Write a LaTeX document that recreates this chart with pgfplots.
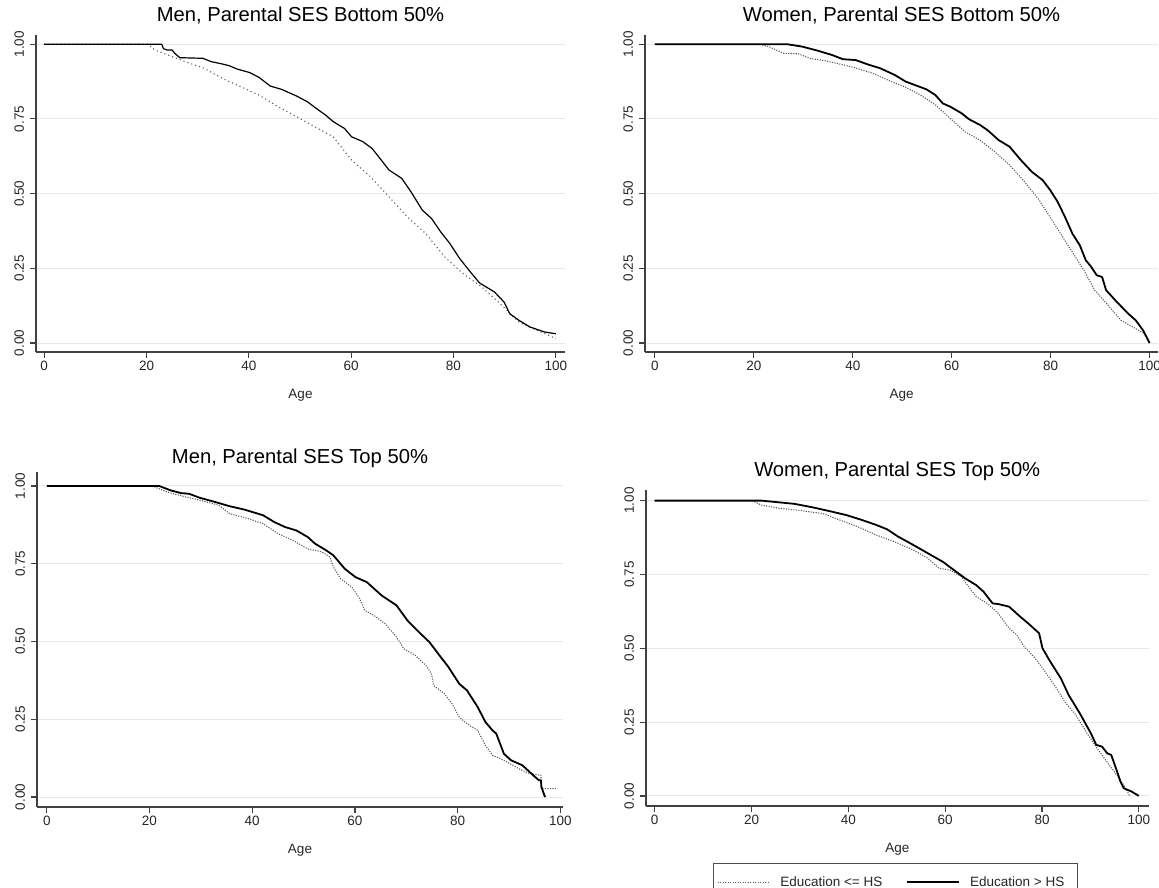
\documentclass[border=0pt]{standalone}
\usepackage{fontspec}
\setmainfont{Liberation Sans}
\usepackage{pgfplots}
\pgfplotsset{compat=1.18}
\begin{document}
\begin{tikzpicture}[x=1pt,y=1pt]
\path[use as bounding box] (0,0) rectangle (1159,888);
\pgfplotsset{
  km/.style={
    scale only axis,
    axis x line*=bottom, axis y line*=left,
    axis line style={-, draw=black!75, line width=1.3pt},
    tick align=outside, major tick length=6pt,
    tick style={draw=black!75, line width=1.1pt},
    xtick={0,20,40,60,80,100}, xticklabels={0,20,40,60,80,100},
    ytick={0,0.25,0.5,0.75,1}, yticklabels={0.00,0.25,0.50,0.75,1.00},
    ymajorgrids, grid style={draw=black!9, line width=1pt},
    tick label style={font=\fontsize{13.5}{16}\selectfont, text=black!85},
    yticklabel style={rotate=90, anchor=south, yshift=2.5pt},
    title style={at={(0.5,1)}, anchor=base, yshift=7pt, font=\fontsize{20.2}{24}\selectfont},
    xlabel=Age,
    xlabel style={at={(0.5,0)}, anchor=base, yshift=-47pt, font=\fontsize{13.5}{16}\selectfont, text=black!85},
  },
  lo/.style={draw=black!65, line width=1.1pt, dash pattern=on 1.1pt off 1.4pt},
  hi/.style={draw=black, line width=1.8pt, line join=round},
}
% Panel 1
\begin{axis}[km, at={(36pt,536pt)}, anchor=south west, width=529pt, height=317pt,
  xmin=-1.6, xmax=101.8, ymin=-0.030, ymax=1.031,
  title={Men, Parental SES Bottom 50\%}]
\addplot[lo, dash pattern=on 1.1pt off 3pt] coordinates {(0,1) (20.3,1) (21.7,0.98) (23.9,0.966) (27.5,0.942) (31.2,0.92) (34.8,0.886) (38.4,0.858) (42,0.83) (45.7,0.791) (49.3,0.758) (52.9,0.724) (56.5,0.69) (60.1,0.612) (63.8,0.556) (67.4,0.489) (71,0.422) (74.6,0.366) (78.3,0.288) (81.9,0.232) (85.5,0.188) (89.1,0.132) (92.8,0.07) (96.4,0.042) (100,0.015)};
\addplot[hi, line width=1.2pt] coordinates {(0,1) (23,1) (23.3,0.985) (24,0.981) (25,0.981) (25.5,0.97) (26.5,0.955) (31,0.953) (32.6,0.942) (34.8,0.934) (36.2,0.928) (37.7,0.917) (40.2,0.905) (42,0.889) (44.2,0.86) (46.4,0.849) (49.3,0.827) (51.4,0.808) (53.6,0.78) (55,0.763) (56.5,0.741) (58.7,0.718) (60.1,0.69) (62.3,0.674) (64.1,0.651) (65.9,0.612) (67.4,0.579) (69.9,0.551) (71.7,0.506) (73.9,0.445) (75.7,0.417) (77.5,0.372) (79.3,0.333) (81.2,0.283) (83.3,0.238) (85.1,0.201) (88,0.171) (89.9,0.137) (91,0.098) (92.8,0.076) (94.9,0.054) (97.8,0.037) (100,0.031)};
\end{axis}
% Panel 2
\begin{axis}[km, at={(645pt,536pt)}, anchor=south west, width=513pt, height=317pt,
  xmin=-2.0, xmax=101.7, ymin=-0.030, ymax=1.031,
  title={Women, Parental SES Bottom 50\%}]
\addplot[lo] coordinates {(0,1) (21.2,1) (23,0.992) (26,0.97) (29,0.968) (31.3,0.953) (34.3,0.945) (37.3,0.934) (40.3,0.922) (44,0.903) (47.8,0.875) (50.7,0.856) (53.7,0.83) (56.7,0.797) (59.7,0.752) (62.7,0.707) (65.7,0.679) (68.7,0.64) (71.7,0.596) (74.7,0.54) (77.7,0.478) (80.7,0.4) (83.7,0.322) (86.7,0.244) (88.9,0.177) (91.9,0.121) (94.2,0.076) (97.2,0.048) (99,0.031) (100,0)};
\addplot[hi] coordinates {(0,1) (26.8,1) (29.8,0.992) (32.8,0.979) (35.8,0.964) (38,0.95) (40.6,0.947) (43.3,0.931) (45.5,0.92) (48.5,0.897) (50.7,0.875) (54.9,0.849) (56.7,0.83) (58.2,0.802) (59.7,0.791) (62,0.769) (63.5,0.749) (65.7,0.73) (67.2,0.713) (69.5,0.679) (71.7,0.657) (74,0.612) (76.2,0.573) (78.4,0.545) (79.9,0.512) (81.4,0.473) (82.9,0.422) (84.4,0.366) (85.9,0.327) (87.1,0.277) (88.2,0.255) (89.3,0.227) (90.4,0.221) (91.2,0.177) (93.4,0.137) (95.7,0.098) (97.2,0.076) (98.7,0.042) (100,0)};
\end{axis}
% Panel 3
\begin{axis}[km, at={(37pt,81pt)}, anchor=south west, width=526pt, height=335pt,
  xmin=-1.9, xmax=100.5, ymin=-0.032, ymax=1.045,
  title={Men, Parental SES Top 50\%}, title style={yshift=-5pt}]
\addplot[lo] coordinates {(0,1) (20.5,1) (23.4,0.981) (27,0.965) (30.6,0.951) (33.5,0.938) (35.6,0.911) (39.2,0.895) (42.1,0.879) (45,0.847) (47.9,0.825) (50.8,0.798) (53.6,0.788) (55.1,0.772) (55.8,0.74) (57.2,0.702) (59.4,0.675) (60.9,0.638) (61.9,0.6) (63.7,0.584) (65.9,0.557) (68.1,0.514) (69.5,0.477) (71.7,0.456) (73.8,0.423) (74.9,0.397) (75.3,0.359) (77.4,0.332) (78.9,0.3) (80.3,0.257) (81.8,0.236) (83.9,0.214) (85.4,0.166) (86.8,0.134) (89,0.118) (91.9,0.091) (94,0.075) (96.2,0.07) (96.3,0.027) (99.1,0.027)};
\addplot[hi] coordinates {(0,1) (21.9,1) (24.1,0.986) (26.2,0.977) (27.7,0.975) (29.8,0.962) (32.7,0.949) (35.6,0.935) (38.5,0.924) (42.1,0.906) (44.3,0.884) (46.4,0.868) (48.6,0.857) (50.8,0.836) (52.2,0.815) (54.4,0.793) (55.8,0.777) (58,0.734) (60.1,0.707) (62.3,0.691) (65.2,0.648) (68.1,0.616) (70.2,0.568) (72.4,0.531) (74.5,0.498) (76.7,0.45) (78.2,0.418) (80.3,0.364) (81.8,0.343) (83.9,0.289) (85.4,0.241) (86.8,0.214) (87.5,0.204) (89,0.139) (90.4,0.118) (92.6,0.102) (94.7,0.07) (95.8,0.054) (96.2,0.054) (96.3,0.032) (97,0)};
\end{axis}
% Panel 4
\begin{axis}[km, at={(646pt,82pt)}, anchor=south west, width=502.5pt, height=316pt,
  xmin=-1.8, xmax=102, ymin=-0.034, ymax=1.036,
  title={Women, Parental SES Top 50\%},
  legend columns=2,
  legend style={at={(0.5,0)}, anchor=north, yshift=-57pt, xshift=-2pt, draw=black!70, line width=0.9pt,
    font=\fontsize{13.5}{16}\selectfont, text=black!85, inner xsep=4pt, inner ysep=11pt,
    /tikz/every even column/.append style={column sep=22pt}},
  legend image code/.code={\draw[#1] (0pt,0pt) -- (52pt,0pt); \path (60pt,0pt);}]
\addplot[lo] coordinates {(0,1) (20.1,1) (22,0.985) (25.8,0.974) (30.4,0.966) (35,0.955) (38.1,0.935) (41.9,0.912) (45.7,0.884) (49.5,0.861) (53.4,0.833) (56.4,0.805) (58.7,0.771) (61,0.765) (63.3,0.743) (64.8,0.709) (66.4,0.675) (68.7,0.652) (70.9,0.619) (73.2,0.568) (74.8,0.545) (76.3,0.506) (78.6,0.466) (80.9,0.415) (83.2,0.359) (84.7,0.319) (87,0.274) (89.3,0.212) (91.6,0.156) (93.9,0.105) (96.2,0.054) (97.3,0.026) (98.1,0)};
\addlegendentry{Education <= HS}
\addplot[hi] coordinates {(0,1) (22,1) (25.8,0.994) (28.9,0.989) (32.7,0.977) (36.5,0.963) (39.6,0.951) (42.7,0.935) (45.7,0.918) (48,0.903) (50.3,0.878) (53.4,0.85) (56.4,0.822) (59.5,0.793) (61.8,0.765) (64.1,0.737) (66.4,0.714) (67.9,0.692) (69.8,0.652) (70.9,0.65) (73.2,0.641) (75.5,0.607) (77.1,0.585) (79.4,0.551) (80.1,0.5) (81.7,0.455) (83.9,0.398) (85.5,0.342) (87.8,0.28) (90.1,0.212) (91.2,0.173) (92.4,0.167) (93.5,0.144) (94.3,0.139) (95.4,0.088) (96.2,0.049) (96.9,0.026) (98.5,0.015) (100,0)};
\addlegendentry{Education > HS\hspace*{7pt}}
\end{axis}
\end{tikzpicture}
\end{document}
